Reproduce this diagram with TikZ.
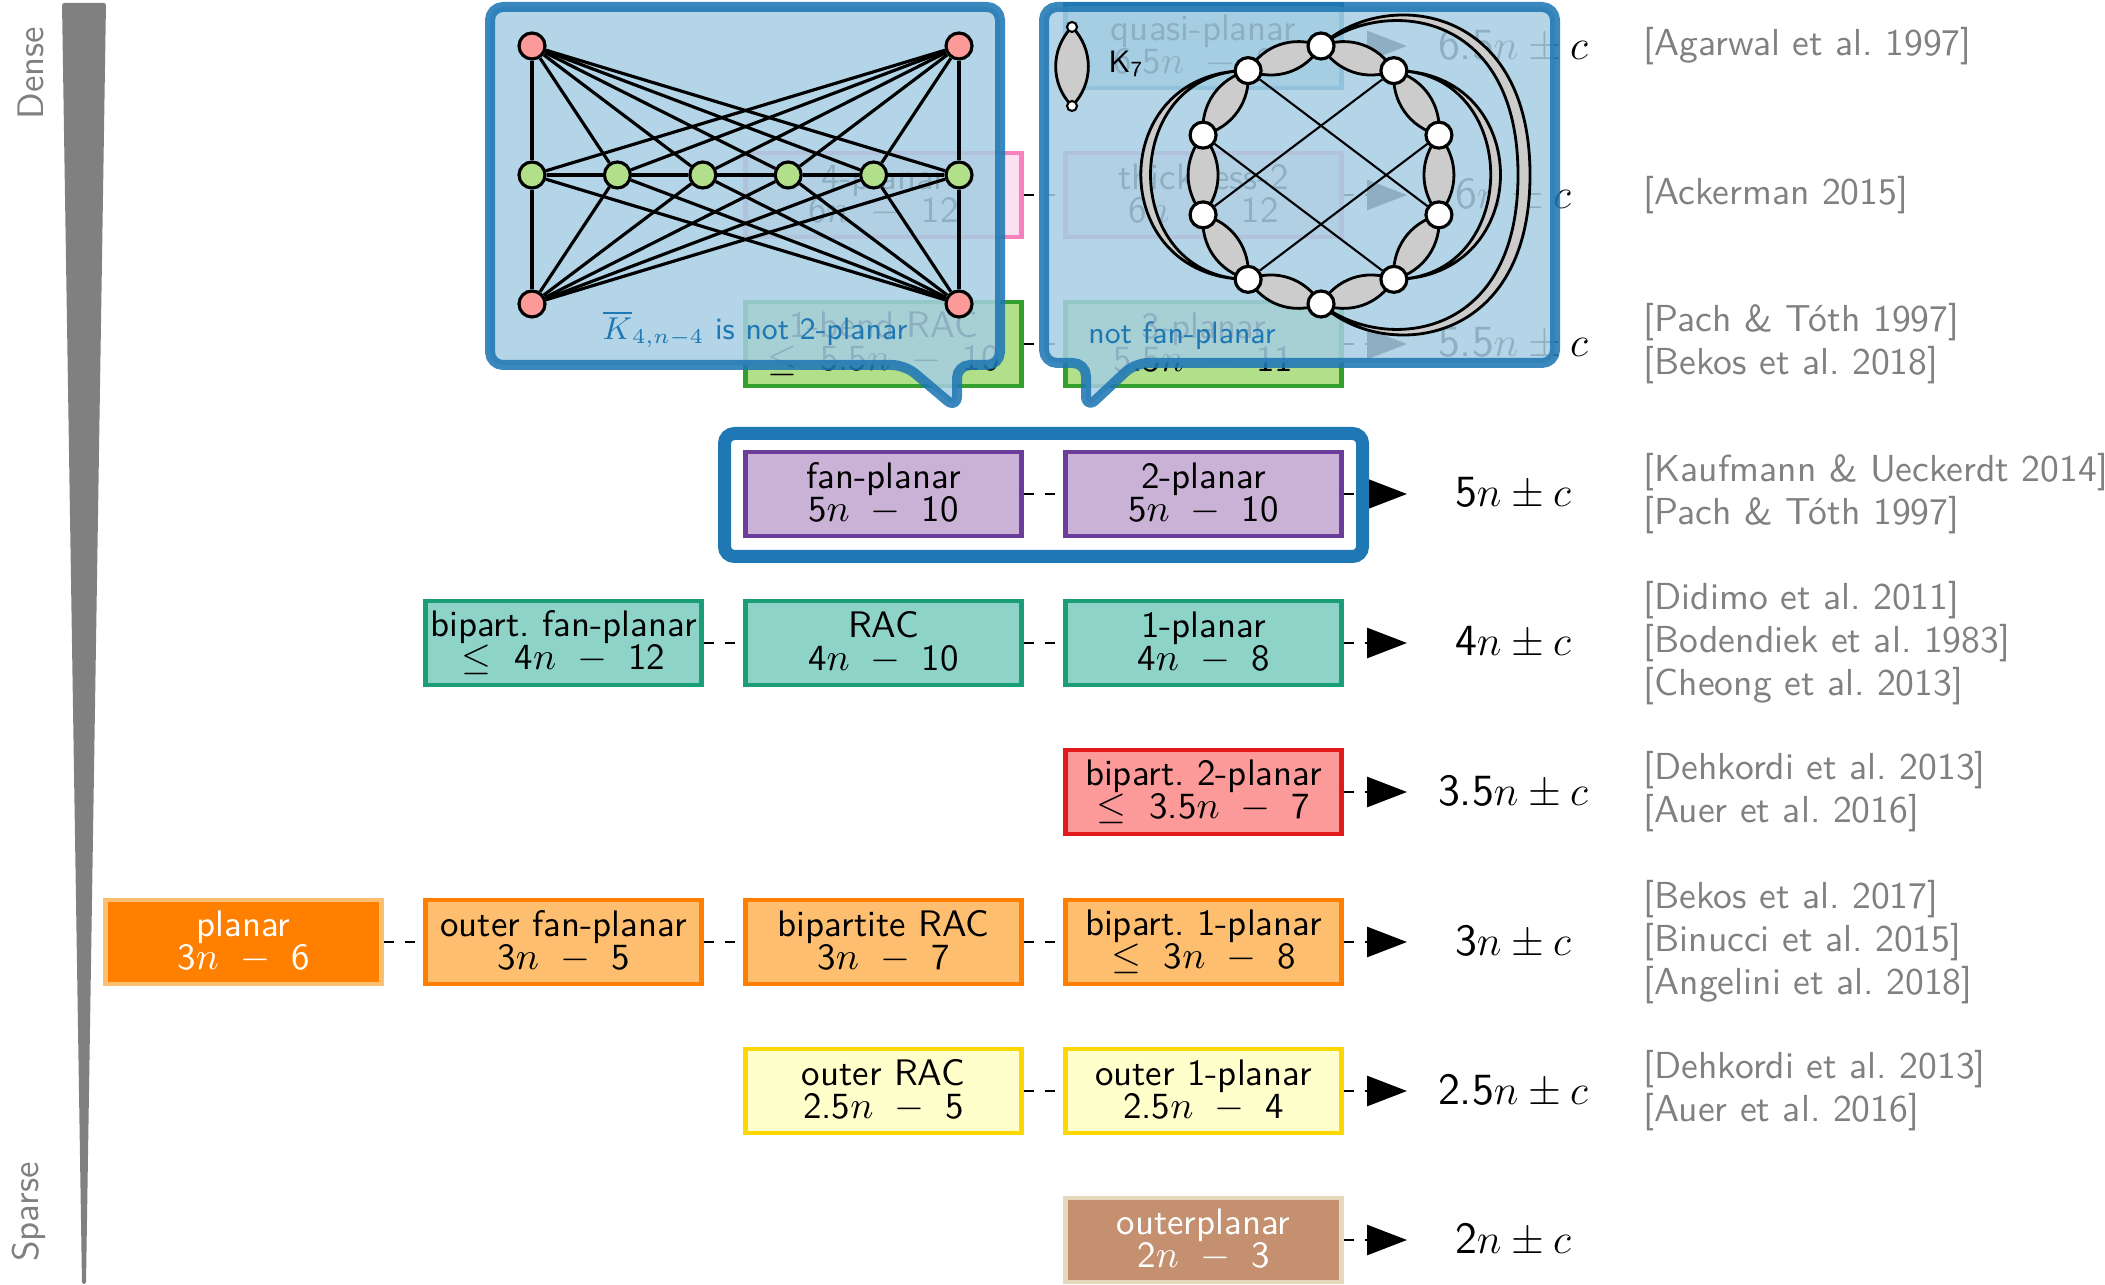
\documentclass[tikz,border=0pt]{standalone}
\usepackage{fontspec}
\usetikzlibrary{arrows.meta,calc}

\definecolor{pairblue}{HTML}{1F78B4}
\definecolor{pairlblue}{HTML}{A6CEE3}
\definecolor{pinkfill}{HTML}{FDE0EF}
\definecolor{pinkdraw}{HTML}{F781BF}
\definecolor{greenfill}{HTML}{B2DF8A}
\definecolor{greendraw}{HTML}{33A02C}
\definecolor{purplefill}{HTML}{CAB2D6}
\definecolor{purpledraw}{HTML}{6A3D9A}
\definecolor{tealfill}{HTML}{8DD3C7}
\definecolor{tealdraw}{HTML}{1B9E77}
\definecolor{redfill}{HTML}{FB9A99}
\definecolor{reddraw}{HTML}{E31A1C}
\definecolor{orangefill}{HTML}{FDBF6F}
\definecolor{orangedraw}{HTML}{FF7F00}
\definecolor{yellowfill}{HTML}{FFFFCC}
\definecolor{yellowdraw}{HTML}{FFD700}
\definecolor{brownfill}{HTML}{C4906F}
\definecolor{browndraw}{HTML}{E5D8BD}
\definecolor{refgray}{HTML}{808080}
\definecolor{lensgray}{HTML}{CCCCCC}

% spaced minus and leq in the edge bounds
\newcommand\mns{~\kern2.5pt$-$\kern2.5pt~}
\newcommand\lqs{$\leq$\kern3pt~}
\frenchspacing

\tikzset{
  box/.style={draw, line width=1.2pt, minimum width=2.76cm, minimum height=0.84cm,
    inner sep=0pt, align=center, font=\sffamily\fontsize{10.5}{9.4}\selectfont},
  pinkbox/.style={box, draw=pinkdraw, fill=pinkfill},
  bluebox/.style={box, draw=pairblue, fill=pairlblue},
  greenbox/.style={box, draw=greendraw, fill=greenfill},
  purplebox/.style={box, draw=purpledraw, fill=purplefill},
  tealbox/.style={box, draw=tealdraw, fill=tealfill},
  redbox/.style={box, draw=reddraw, fill=redfill},
  orangebox/.style={box, draw=orangedraw, fill=orangefill},
  yellowbox/.style={box, draw=yellowdraw, fill=yellowfill},
  conn/.style={thick, dashed},
  imply/.style={conn, -{Triangle[length=0.4cm, width=0.3cm]}},
  bound/.style={font=\sffamily\fontsize{12.7}{14}\selectfont},
  refs/.style={anchor=west, align=left, inner sep=0pt, text=refgray,
    font=\sffamily\fontsize{10.7}{12.2}\selectfont},
  bubble/.style={draw=pairblue, fill=pairlblue, line width=0.1cm, rounded corners=0.13cm,
    line join=round, fill opacity=0.85, draw opacity=0.88},
  bubtext/.style={text=pairblue, font=\sffamily\fontsize{8.8}{10}\selectfont},
  rvtx/.style={circle, draw, fill=redfill, line width=0.9pt, minimum size=0.26cm, inner sep=0pt},
  gvtx/.style={rvtx, fill=greenfill},
  wvtx/.style={circle, draw, fill=white, line width=0.9pt, minimum size=0.26cm, inner sep=0pt},
  dot/.style={circle, draw, fill=white, line width=0.6pt, minimum size=0.1cm, inner sep=0pt},
  lens/.style={draw, fill=lensgray, line width=0.8pt},
}

\begin{document}
\begin{tikzpicture}
\useasboundingbox (0,0) rectangle (21.05,12.84);

% density scale
\fill[refgray, rounded corners=0.5pt] (0.62,12.81) -- (1.06,12.81) -- (0.86,0) -- (0.82,0) -- cycle;
\node[rotate=90, text=refgray, font=\sffamily\fontsize{10.5}{12}\selectfont] (dense) at (0.31,12.11) {Dense};
\node[rotate=90, text=refgray, font=\sffamily\fontsize{10.5}{12}\selectfont] (sparse) at (0.29,0.72) {Sparse};

\coordinate (tip) at (14.07,0);

% 6.5n
\node[bluebox] (quasi) at (12.035,12.38) {quasi-planar\\6.5$n$\mns 20};
\draw[imply] (quasi) -- (quasi -| tip);
\node[bound] (b65) at (15.13,12.38) {6.5$n\pm c$};
\node[refs] (r65) at (16.43,12.38) {[Agarwal et al. 1997]};

% 6n
\node[pinkbox] (fourpl) at (8.835,10.89) {4-planar\\6$n$\mns 12};
\node[pinkbox] (thick) at (12.035,10.89) {thickness-2\\6$n$\mns 12};
\draw[conn] (fourpl) -- (thick);
\draw[imply] (thick) -- (thick -| tip);
\node[bound] (b6) at (15.13,10.89) {6$n\pm c$};
\node[refs] (r6) at (16.43,10.89) {[Ackerman 2015]};

% 5.5n
\node[greenbox] (bendrac) at (8.835,9.40) {1-bend RAC\\\lqs 5.5$n$\mns 10};
\node[greenbox] (threepl) at (12.035,9.40) {3-planar\\5.5$n$\mns 11};
\draw[conn] (bendrac) -- (threepl);
\draw[imply] (threepl) -- (threepl -| tip);
\node[bound] (b55) at (15.13,9.40) {5.5$n\pm c$};
\node[refs] (r55) at (16.43,9.40) {[Pach \& T\'oth 1997]\\{[}Bekos et al. 2018]};

% 5n
\node[purplebox] (fanpl) at (8.835,7.90) {fan-planar\\5$n$\mns 10};
\node[purplebox] (twopl) at (12.035,7.90) {2-planar\\5$n$\mns 10};
\draw[conn] (fanpl) -- (twopl);
\draw[imply] (twopl) -- (twopl -| tip);
\node[bound] (b5) at (15.13,7.90) {5$n\pm c$};
\node[refs] (r5) at (16.43,7.90) {[Kaufmann \& Ueckerdt 2014]\\{[}Pach \& T\'oth 1997]};
\draw[pairblue, line width=0.13cm, rounded corners=0.1cm] (7.245,7.275) rectangle (13.625,8.505);

% 4n
\node[tealbox] (bfanpl) at (5.635,6.41) {bipart. fan-planar\\\lqs 4$n$\mns 12};
\node[tealbox] (rac) at (8.835,6.41) {RAC\\4$n$\mns 10};
\node[tealbox] (onepl) at (12.035,6.41) {1-planar\\4$n$\mns 8};
\draw[conn] (bfanpl) -- (rac);
\draw[conn] (rac) -- (onepl);
\draw[imply] (onepl) -- (onepl -| tip);
\node[bound] (b4) at (15.13,6.41) {4$n\pm c$};
\node[refs] (r4) at (16.43,6.41) {[Didimo et al. 2011]\\{[}Bodendiek et al. 1983]\\{[}Cheong et al. 2013]};

% 3.5n
\node[redbox] (btwopl) at (12.035,4.92) {bipart. 2-planar\\\lqs 3.5$n$\mns 7};
\draw[imply] (btwopl) -- (btwopl -| tip);
\node[bound] (b35) at (15.13,4.92) {3.5$n\pm c$};
\node[refs] (r35) at (16.43,4.92) {[Dehkordi et al. 2013]\\{[}Auer et al. 2016]};

% 3n
\node[box, draw=orangefill, fill=orangedraw, text=white] (planar) at (2.435,3.42) {planar\\3$n$\mns 6};
\node[orangebox] (ofanpl) at (5.635,3.42) {outer fan-planar\\3$n$\mns 5};
\node[orangebox] (brac) at (8.835,3.42) {bipartite RAC\\3$n$\mns 7};
\node[orangebox] (bonepl) at (12.035,3.42) {bipart. 1-planar\\\lqs 3$n$\mns 8};
\draw[conn] (planar) -- (ofanpl);
\draw[conn] (ofanpl) -- (brac);
\draw[conn] (brac) -- (bonepl);
\draw[imply] (bonepl) -- (bonepl -| tip);
\node[bound] (b3) at (15.13,3.42) {3$n\pm c$};
\node[refs] (r3) at (16.43,3.42) {[Bekos et al. 2017]\\{[}Binucci et al. 2015]\\{[}Angelini et al. 2018]};

% 2.5n
\node[yellowbox] (orac) at (8.835,1.93) {outer RAC\\2.5$n$\mns 5};
\node[yellowbox] (oonepl) at (12.035,1.93) {outer 1-planar\\2.5$n$\mns 4};
\draw[conn] (orac) -- (oonepl);
\draw[imply] (oonepl) -- (oonepl -| tip);
\node[bound] (b25) at (15.13,1.93) {2.5$n\pm c$};
\node[refs] (r25) at (16.43,1.93) {[Dehkordi et al. 2013]\\{[}Auer et al. 2016]};

% 2n
\node[box, draw=browndraw, fill=brownfill, text=white] (outerpl) at (12.035,0.44) {outerplanar\\2$n$\mns 3};
\draw[imply] (outerpl) -- (outerpl -| tip);
\node[bound] (b2) at (15.13,0.44) {2$n\pm c$};

% callout: fan-planar but not 2-planar
\draw[bubble] (4.90,12.77) -- (10.00,12.77) -- (10.00,9.19) -- (9.57,9.19) -- (9.57,8.75)
  -- (9.05,9.19) -- (4.90,9.19) -- cycle;
\node[rvtx] (rtl) at (5.32,12.38) {};
\node[rvtx] (rtr) at (9.59,12.38) {};
\node[rvtx] (rbl) at (5.32,9.80) {};
\node[rvtx] (rbr) at (9.59,9.80) {};
\foreach \i/\x in {1/5.32,2/6.174,3/7.028,4/7.882,5/8.736,6/9.59}
  \node[gvtx] (g\i) at (\x,11.09) {};
\foreach \r in {rtl,rtr,rbl,rbr}
  \foreach \i in {1,...,6}
    \draw[line width=0.9pt] (\r) -- (g\i);
\foreach \i/\j in {1/2,2/3,3/4,4/5,5/6}
  \draw[line width=0.9pt] (g\i) -- (g\j);
\node[bubtext] (nottwo) at (7.55,9.55) {$\overline{K}_{4,n-4}$ is not 2-planar};

% callout: 2-planar but not fan-planar
\draw[bubble] (10.44,12.77) -- (15.55,12.77) -- (15.55,9.21) -- (11.35,9.21) -- (10.86,8.75)
  -- (10.86,9.21) -- (10.44,9.21) -- cycle;
\coordinate (la) at (10.72,12.57);
\coordinate (lb) at (10.72,11.78);
\draw[lens] (la) to[bend left=45] (lb) to[bend left=45] (la) -- cycle;
\node[dot] (da) at (la) {};
\node[dot] (db) at (lb) {};
\node[font=\sffamily\fontsize{8.8}{10}\selectfont, anchor=west] (kseven) at (10.96,12.20) {K\textsubscript{7}};
\foreach \i in {0,...,9}
  \coordinate (k\i) at ($(13.21,11.09)+({90+36*\i}:1.24 and 1.29)$);
\foreach \i [evaluate=\i as \j using {int(mod(\i+1,10))}] in {0,...,9}
  \draw[lens] (k\i) to[bend left=40] (k\j) to[bend left=40] (k\i) -- cycle;
\draw[lens] (k1) .. controls (11.05,12.14) and (11.05,10.05) .. (k4)
  .. controls (11.18,10.05) and (11.18,12.14) .. (k1) -- cycle;
\draw[lens] (k9) .. controls (15.36,12.14) and (15.36,10.05) .. (k6)
  .. controls (15.23,10.05) and (15.23,12.14) .. (k9) -- cycle;
\draw[lens] (k0) .. controls (13.8,12.95) and (15.30,12.85) .. (15.30,11.09)
  .. controls (15.30,9.33) and (13.8,9.23) .. (k5)
  .. controls (13.8,9.32) and (15.18,9.40) .. (15.18,11.09)
  .. controls (15.18,12.78) and (13.8,12.86) .. (k0) -- cycle;
\foreach \i in {0,...,9}
  \node[wvtx] (v\i) at (k\i) {};
\foreach \i/\j in {1/7,9/3,2/6,8/4}
  \draw[line width=0.6pt] (v\i) -- (v\j);
\node[bubtext] (notfan) at (11.82,9.48) {not fan-planar};
\end{tikzpicture}
\end{document}
